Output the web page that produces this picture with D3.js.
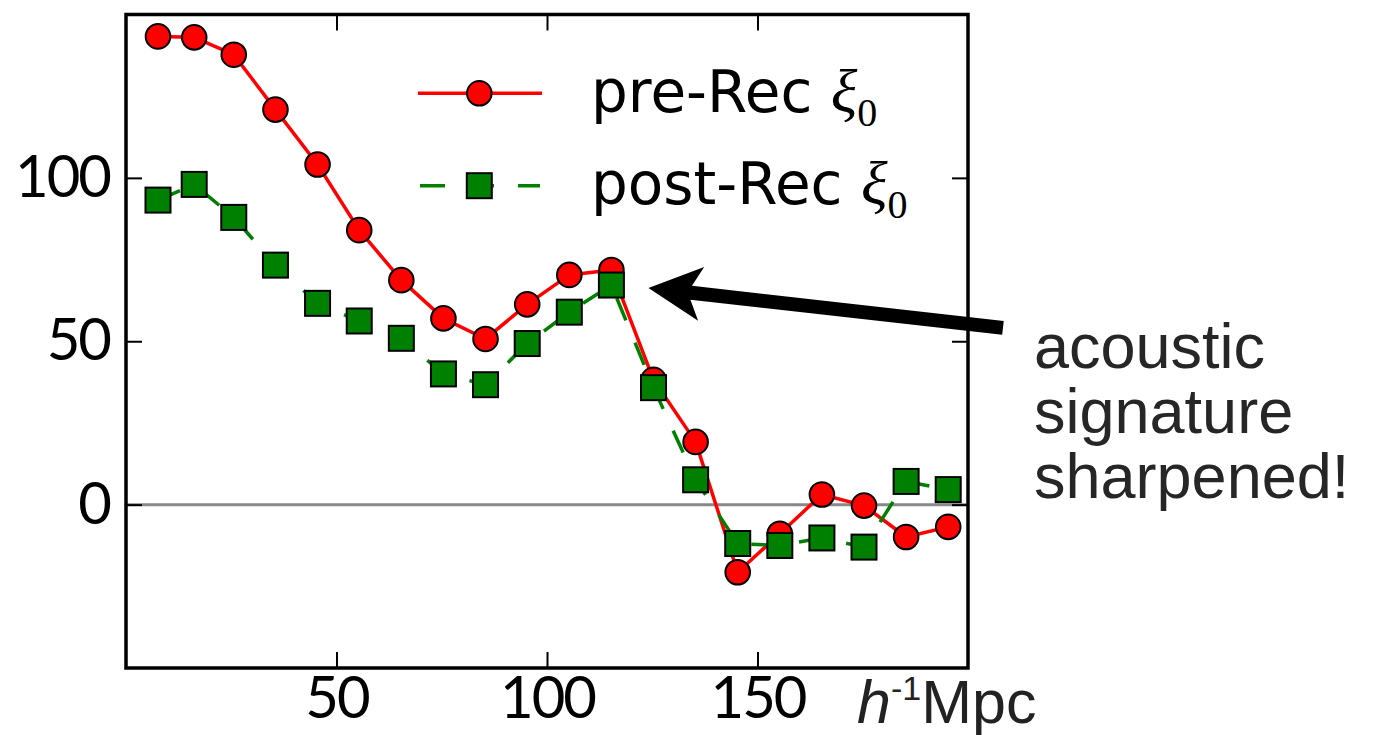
<!DOCTYPE html>
<html><head><meta charset="utf-8">
<script src="https://cdn.jsdelivr.net/npm/d3@7"></script>
<style>body{margin:0;background:#fff}svg{display:block}</style>
</head><body>
<svg id="c" width="1381" height="735"></svg>
<script>
// ---- data ----
const sepR = [7.6, 16.2, 25.6, 35.5, 45.5, 55.4, 65.4, 75.4, 85.4, 95.3, 105.3, 115.3, 125.3, 135.3, 145.3, 155.3, 165.3, 175.3, 185.3, 195.3];
const preRec = [143.3, 143.0, 137.7, 120.9, 104.1, 84.0, 68.7, 57.0, 50.7, 61.3, 70.3, 71.8, 38.2, 19.2, -20.7, -8.9, 3.1, -0.3, -9.9, -6.8];
const postRec = [93.2, 98.0, 87.9, 73.3, 61.6, 56.2, 50.9, 40.0, 36.7, 49.3, 58.9, 67.2, 35.8, 7.6, -11.9, -12.5, -10.2, -13.0, 7.1, 4.6];
const xTicks = [50, 100, 150];
const yTicks = [0, 50, 100];
const seriesNames = ["pre-Rec", "post-Rec"];
const noteLines = ["acoustic", "signature", "sharpened!"];
const arrowTip = [124.1, 66.3];   // data coords
const arrowTail = [208.3, 54.1];  // data coords

// ---- layout ----
const svg = d3.select("#c");
const L = 126, R = 968, T = 14.5, B = 668;
const x = d3.scaleLinear().domain([0, 200]).range([L, R]);
const y = d3.scaleLinear().domain([-50, 150]).range([B, T]);
const tickFont = "Lato, 'Open Sans', sans-serif";

// zero line
svg.append("line").attr("x1", L).attr("x2", R).attr("y1", y(0)).attr("y2", y(0))
  .attr("stroke", "#888").attr("stroke-width", 3);

// series
const ptsPre = sepR.map((r, i) => [r, preRec[i]]);
const ptsPost = sepR.map((r, i) => [r, postRec[i]]);
const line = d3.line().x(d => x(d[0])).y(d => y(d[1]));

svg.append("path").attr("d", line(ptsPre)).attr("fill", "none")
  .attr("stroke", "#ff0000").attr("stroke-width", 3.5).attr("stroke-linejoin", "round");
svg.selectAll("circle.pre").data(ptsPre).enter().append("circle")
  .attr("cx", d => x(d[0])).attr("cy", d => y(d[1])).attr("r", 12.3)
  .attr("fill", "#ff0000").attr("stroke", "#000").attr("stroke-width", 2);

svg.append("path").attr("d", line(ptsPost)).attr("fill", "none")
  .attr("stroke", "#008000").attr("stroke-width", 3.5).attr("stroke-dasharray", "24,24");
const sq = 25;
svg.selectAll("rect.post").data(ptsPost).enter().append("rect")
  .attr("x", d => x(d[0]) - sq / 2).attr("y", d => y(d[1]) - sq / 2)
  .attr("width", sq).attr("height", sq)
  .attr("fill", "#008000").attr("stroke", "#000").attr("stroke-width", 2);

// axes (ticks inward)
const gB = svg.append("g").attr("transform", `translate(0,${B})`)
  .call(d3.axisBottom(x).tickValues(xTicks).tickSize(-16).tickPadding(9).tickFormat(d3.format("d")));
const gT = svg.append("g").attr("transform", `translate(0,${T})`)
  .call(d3.axisTop(x).tickValues(xTicks).tickSize(-16).tickFormat(""));
const gL = svg.append("g").attr("transform", `translate(${L},0)`)
  .call(d3.axisLeft(y).tickValues(yTicks).tickSize(-16).tickPadding(16).tickFormat(d3.format("d")));
const gR = svg.append("g").attr("transform", `translate(${R},0)`)
  .call(d3.axisRight(y).tickValues(yTicks).tickSize(-16).tickFormat(""));
[gB, gT, gL, gR].forEach(g => {
  g.select(".domain").remove();
  g.selectAll(".tick line").attr("stroke", "#000").attr("stroke-width", 2);
  g.selectAll(".tick text").attr("font-family", tickFont).attr("font-size", 58)
    .attr("letter-spacing", -2).attr("fill", "#000");
});

// frame
svg.append("rect").attr("x", L).attr("y", T).attr("width", R - L).attr("height", B - T)
  .attr("fill", "none").attr("stroke", "#000").attr("stroke-width", 3.5);

// x unit label
const unit = svg.append("text").attr("x", 857).attr("y", 723)
  .attr("font-family", "'Liberation Sans', Arial, sans-serif").attr("font-size", 61).attr("fill", "#222");
unit.append("tspan").attr("font-style", "italic").text("h");
unit.append("tspan").attr("font-size", 34).attr("dy", -23).text("-1");
unit.append("tspan").attr("dy", 23).text("Mpc");

// legend
const legY = [93.3, 185.7];
svg.append("line").attr("x1", 418).attr("x2", 542).attr("y1", legY[0]).attr("y2", legY[0])
  .attr("stroke", "#ff0000").attr("stroke-width", 3.5);
svg.append("circle").attr("cx", 479.3).attr("cy", legY[0]).attr("r", 12.3)
  .attr("fill", "#ff0000").attr("stroke", "#000").attr("stroke-width", 2);
svg.append("line").attr("x1", 420).attr("x2", 540).attr("y1", legY[1]).attr("y2", legY[1])
  .attr("stroke", "#008000").attr("stroke-width", 3.5).attr("stroke-dasharray", "25,24");
svg.append("rect").attr("x", 479.3 - sq / 2).attr("y", legY[1] - sq / 2).attr("width", sq).attr("height", sq)
  .attr("fill", "#008000").attr("stroke", "#000").attr("stroke-width", 2);
seriesNames.forEach((n, i) => {
  const t = svg.append("text").attr("x", 591).attr("y", legY[i] + 18.4)
    .attr("font-family", "'DejaVu Sans', sans-serif").attr("font-size", 58).attr("fill", "#000");
  t.append("tspan").text(n + " ");
  t.append("tspan").attr("font-family", "'Liberation Serif', 'DejaVu Serif', serif")
    .attr("font-style", "italic").attr("font-size", 62).text("ξ");
  t.append("tspan").attr("font-family", "'Liberation Serif', 'DejaVu Serif', serif")
    .attr("font-size", 40).attr("dy", 14).text("0");
});

// arrow
const tp = [x(arrowTip[0]), y(arrowTip[1])], tl = [x(arrowTail[0]), y(arrowTail[1])];
const dx = tl[0] - tp[0], dy = tl[1] - tp[1], len = Math.hypot(dx, dy);
const u = [dx / len, dy / len], nv = [-u[1], u[0]];
const P = (a, b) => [tp[0] + u[0] * a + nv[0] * b, tp[1] + u[1] * a + nv[1] * b];
const Q = (b) => [tl[0] + nv[0] * b, tl[1] + nv[1] * b];
const arrowPts = [tp, P(53, 27), P(43, 7), Q(7), Q(-7), P(43, -7), P(53, -27)];
svg.append("path").attr("d", "M" + arrowPts.map(p => p.join(",")).join("L") + "Z").attr("fill", "#000");

// annotation text
const note = svg.append("text").attr("x", 1034).attr("y", 368)
  .attr("font-family", "'Liberation Sans', Arial, sans-serif").attr("font-size", 63).attr("fill", "#262626");
noteLines.forEach((s, i) => note.append("tspan").attr("x", 1034).attr("dy", i ? 65 : 0).text(s));
</script>
</body></html>
